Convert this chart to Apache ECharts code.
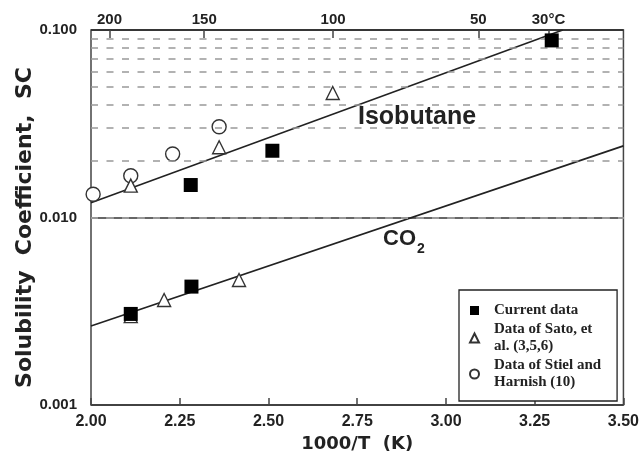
<!DOCTYPE html>
<html><head><meta charset="utf-8">
<script src="https://cdn.jsdelivr.net/npm/echarts@6/dist/echarts.min.js"></script>
<style>html,body{margin:0;padding:0;background:#fff}#c{width:642px;height:461px}</style>
</head><body><div id="c"></div>
<script>
// ---- data ----
const isoCurrentX = [2.281, 2.511, 3.298];
const isoCurrentY = [0.0149, 0.0227, 0.088];
const isoSatoX = [2.112, 2.361, 2.681];
const isoSatoY = [0.0148, 0.0237, 0.0461];
const isoStielX = [2.006, 2.112, 2.230, 2.361];
const isoStielY = [0.0133, 0.0167, 0.0218, 0.0305];
const co2CurrentX = [2.112, 2.283];
const co2CurrentY = [0.00306, 0.00428];
const co2SatoX = [2.112, 2.206, 2.417];
const co2SatoY = [0.00298, 0.00363, 0.00464];
const isoFitX = [2.0, 3.329];
const isoFitY = [0.0120, 0.1];
const co2FitX = [2.0, 3.5];
const co2FitY = [0.00264, 0.0241];
const topTickX = [2.052, 2.319, 2.682, 3.091, 3.289];
const topTickLabels = ['200', '150', '100', '50', '30°C'];
const minorGridValues = [0.002,0.003,0.004,0.005,0.006,0.007,0.008,0.009,0.02,0.03,0.04,0.05,0.06,0.07,0.08,0.09];
const seriesNames = ['Current data', 'Data of Sato, et al. (3,5,6)', 'Data of Stiel and Harnish (10)'];
const legendLabels = ['Current data', 'Data of Sato, et\nal. (3,5,6)', 'Data of Stiel and\nHarnish (10)'];

const zip = (xs, ys) => xs.map((x, i) => [x, ys[i]]);
const SANS = '"Liberation Sans", Arial, sans-serif';
const WIDE = '"DejaVu Sans", "Liberation Sans", sans-serif';
const TXT = '#222';

const chart = echarts.init(document.getElementById('c'), null, {renderer: 'canvas'});
chart.setOption({
  animation: false,
  backgroundColor: '#fff',
  grid: {left: 91, right: 18, top: 30, bottom: 56, show: true, borderColor: '#444', borderWidth: 1.5, backgroundColor: '#fff'},
  xAxis: [{
    type: 'value', position: 'bottom', min: 2, max: 3.5, interval: 0.25,
    axisLine: {show: false},
    axisTick: {inside: true, length: 7, lineStyle: {color: '#444', width: 1.5}},
    axisLabel: {formatter: v => v.toFixed(2), fontSize: 16, fontWeight: 'bold', fontFamily: SANS, color: TXT, margin: 9, showMinLabel: true, showMaxLabel: true},
    splitLine: {show: false},
    name: '1000/T  (K)', nameLocation: 'middle', nameGap: 28,
    nameTextStyle: {fontSize: 18, fontWeight: 'bold', fontFamily: WIDE, color: TXT}
  }, {
    type: 'value', position: 'top', min: 2, max: 3.5,
    axisLine: {show: false},
    axisTick: {inside: true, length: 8, customValues: topTickX, lineStyle: {color: '#444', width: 1.5}},
    axisLabel: {customValues: topTickX, formatter: v => topTickLabels[topTickX.indexOf(v)], fontSize: 15, fontWeight: 'bold', fontFamily: SANS, color: TXT, margin: 3},
    splitLine: {show: false}
  }],
  yAxis: {
    type: 'log', logBase: 10, min: 0.001, max: 0.1,
    axisLine: {show: false},
    axisTick: {show: false},
    axisLabel: {formatter: v => v.toFixed(3), fontSize: 15, fontWeight: 'bold', fontFamily: SANS, color: TXT, margin: 14},
    splitLine: {show: true, lineStyle: {color: '#333', width: 1.5}},
    name: 'Solubility  Coefficient,  SC', nameLocation: 'middle', nameGap: 55, nameRotate: 90,
    nameMoveOverlap: false,
    nameTextStyle: {fontSize: 22, fontWeight: 'bold', fontFamily: WIDE, color: TXT, padding: [0, 20, 0, 0]}
  },
  legend: {
    show: true, orient: 'vertical', left: 459, top: 290,
    padding: [12, 16, 10, 10], itemWidth: 9, itemHeight: 9, itemGap: 2,
    backgroundColor: '#fff', borderColor: '#222', borderWidth: 1.3,
    selectedMode: false,
    data: seriesNames,
    formatter: n => legendLabels[seriesNames.indexOf(n)],
    textStyle: {fontFamily: '"Liberation Serif", "Times New Roman", serif', fontWeight: 'bold', fontSize: 15, lineHeight: 17, color: TXT, padding: [0, 0, 0, 10]}
  },
  graphic: [
    {type: 'text', left: 358, top: 105, z: 10, style: {text: 'Isobutane', font: 'bold 25px ' + SANS, fill: TXT}},
    {type: 'text', left: 383, top: 228, z: 10, style: {text: '{a|CO}{b|2}', rich: {
      a: {fontSize: 22, fontWeight: 'bold', fontFamily: SANS, fill: TXT},
      b: {fontSize: 14, fontWeight: 'bold', fontFamily: SANS, fill: TXT, padding: [20, 0, 0, 1]}
    }}}
  ],
  series: [
    {type: 'line', name: 'CO2 fit', data: zip(co2FitX, co2FitY), showSymbol: false, symbol: 'none', z: 2,
     lineStyle: {color: '#222', width: 1.6}, silent: true,
     markLine: {silent: true, symbol: ['none', 'none'], label: {show: false}, animation: false,
       lineStyle: {type: [7, 8.5], color: '#999', width: 1.5}, emphasis: {disabled: true},
       data: minorGridValues.map(v => ({yAxis: v}))}},
    {type: 'line', name: 'Isobutane fit', data: zip(isoFitX, isoFitY), showSymbol: false, symbol: 'none', z: 2,
     lineStyle: {color: '#222', width: 1.6}, silent: true},
    {type: 'scatter', name: seriesNames[2], data: zip(isoStielX, isoStielY), symbol: 'circle', symbolSize: 14, z: 3,
     itemStyle: {color: '#fff', borderColor: '#333', borderWidth: 1.4, opacity: 1}},
    {type: 'scatter', name: seriesNames[1], data: zip(isoSatoX, isoSatoY).concat(zip(co2SatoX, co2SatoY)), symbol: 'triangle', symbolSize: 13, z: 4,
     itemStyle: {color: '#fff', borderColor: '#333', borderWidth: 1.4, opacity: 1}},
    {type: 'scatter', name: seriesNames[0], data: zip(isoCurrentX, isoCurrentY).concat(zip(co2CurrentX, co2CurrentY)), symbol: 'rect', symbolSize: 14, z: 5,
     itemStyle: {color: '#000', opacity: 1}}
  ]
});
</script></body></html>
